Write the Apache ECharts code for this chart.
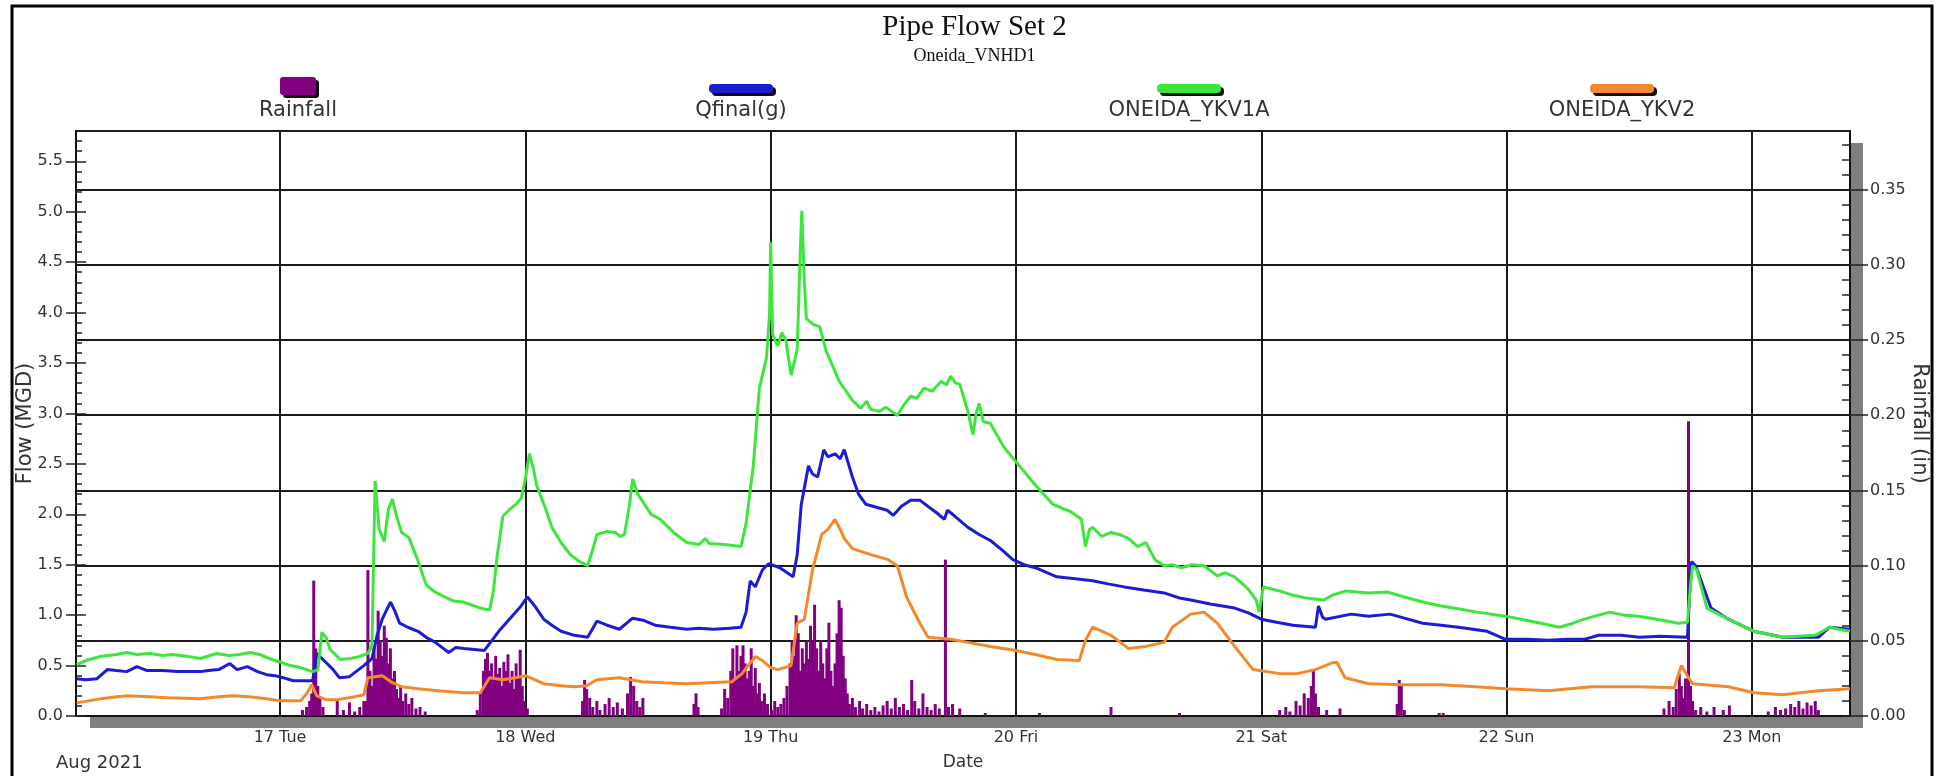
<!DOCTYPE html>
<html><head><meta charset="utf-8">
<script src="https://cdn.jsdelivr.net/npm/echarts@6/dist/echarts.min.js"></script>
<style>html,body{margin:0;padding:0;background:#fff}#c{width:1949px;height:776px}</style>
</head><body><div id="c"></div><script>
// ---- data (x = hours since Aug 16 2021 00:00) ----
const seriesNames = ['Rainfall', 'Qfinal(g)', 'ONEIDA_YKV1A', 'ONEIDA_YKV2'];
const dayHours = [24, 48, 72, 96, 120, 144, 168];
const dayLabels = ['17 Tue', '18 Wed', '19 Thu', '20 Fri', '21 Sat', '22 Sun', '23 Mon'];

const rainfall = [
 [26.2,0.004],[26.6,0.006],[26.9,0.01],[27.1,0.015],[27.3,0.09],[27.5,0.045],[27.7,0.02],[27.9,0.012],[28.2,0.006],
 [29.6,0.011],[30.2,0.004],[30.8,0.009],[31.3,0.003],[31.8,0.006],[32.2,0.01],
 [32.4,0.01],[32.6,0.097],[32.8,0.03],[33.0,0.02],[33.2,0.045],[33.4,0.038],[33.6,0.07],[33.8,0.05],[34.0,0.04],[34.2,0.06],
 [34.4,0.052],[34.6,0.035],[34.8,0.045],[35.0,0.025],[35.2,0.03],[35.4,0.018],[35.6,0.012],[35.8,0.02],[36.0,0.01],
 [36.3,0.015],[36.6,0.008],[36.9,0.012],[37.3,0.005],[37.7,0.006],[38.2,0.003],
 [43.3,0.004],[43.6,0.015],[43.9,0.03],[44.1,0.038],[44.3,0.042],[44.5,0.03],[44.7,0.035],[44.9,0.025],[45.1,0.04],
 [45.3,0.028],[45.5,0.032],[45.7,0.02],[45.9,0.036],[46.1,0.03],[46.3,0.041],[46.5,0.022],[46.7,0.03],[46.9,0.018],
 [47.1,0.035],[47.3,0.025],[47.5,0.044],[47.7,0.02],[47.9,0.01],[48.2,0.005],
 [53.6,0.01],[53.8,0.024],[54.0,0.018],[54.3,0.012],[54.6,0.006],[55.0,0.01],[55.3,0.004],[55.8,0.008],[56.2,0.012],
 [56.6,0.006],[57.0,0.009],[57.5,0.005],[58.0,0.015],[58.3,0.026],[58.6,0.02],[58.9,0.01],[59.2,0.006],[59.5,0.012],
 [64.5,0.008],[64.7,0.015],[64.9,0.006],[67.2,0.005],[67.5,0.018],[67.8,0.012],[68.1,0.03],[68.3,0.045],[68.5,0.025],
 [68.7,0.047],[68.9,0.03],[69.1,0.04],[69.3,0.047],[69.5,0.035],[69.7,0.025],[69.9,0.03],[70.1,0.045],[70.3,0.02],
 [70.5,0.032],[70.7,0.015],[70.9,0.022],[71.1,0.01],[71.4,0.015],[71.7,0.008],
 [72.1,0.004],[72.4,0.01],[72.7,0.006],[73.0,0.008],[73.3,0.012],[73.6,0.02],[73.9,0.035],[74.1,0.05],[74.3,0.04],
 [74.5,0.067],[74.7,0.055],[74.9,0.03],[75.1,0.045],[75.3,0.035],[75.5,0.05],[75.7,0.038],[75.9,0.06],[76.1,0.05],
 [76.3,0.074],[76.5,0.045],[76.7,0.03],[76.9,0.05],[77.1,0.035],[77.3,0.025],[77.5,0.045],[77.7,0.062],[77.9,0.03],
 [78.1,0.02],[78.3,0.035],[78.5,0.055],[78.7,0.077],[78.9,0.072],[79.1,0.04],[79.3,0.025],[79.5,0.015],[79.7,0.008],
 [80.0,0.012],[80.3,0.006],[80.7,0.01],[81.0,0.005],[81.4,0.008],[81.8,0.004],[82.2,0.006],[82.6,0.003],[83.0,0.007],
 [83.4,0.01],[83.8,0.005],[84.2,0.012],[84.6,0.006],[85.0,0.008],[85.4,0.004],[85.8,0.024],[86.1,0.01],[86.5,0.005],
 [86.9,0.015],[87.3,0.006],[87.7,0.004],[88.1,0.008],[88.5,0.005],[89.1,0.104],[89.4,0.006],[89.8,0.008],
 [90.5,0.005],[93.0,0.002],[98.3,0.002],[105.3,0.006],[112.0,0.002],
 [121.8,0.004],[122.4,0.006],[122.8,0.003],[123.4,0.01],[123.8,0.007],[124.2,0.015],[124.6,0.012],[124.9,0.02],
 [125.1,0.031],[125.3,0.015],[125.6,0.006],[126.4,0.004],[127.7,0.005],
 [133.3,0.008],[133.5,0.024],[133.7,0.02],[134.0,0.004],[137.4,0.002],[137.8,0.002],
 [159.4,0.005],[159.9,0.01],[160.3,0.006],[160.6,0.018],[160.9,0.028],[161.1,0.02],[161.3,0.012],[161.5,0.025],
 [161.8,0.196],[162.0,0.02],[162.2,0.01],[162.5,0.004],[163.0,0.006],[163.6,0.003],[164.3,0.006],[165.2,0.004],[165.8,0.007],
 [169.6,0.003],[170.3,0.006],[170.8,0.004],[171.3,0.005],[171.8,0.008],[172.2,0.006],[172.6,0.01],[173.0,0.005],
 [173.4,0.009],[173.8,0.007],[174.2,0.01],[174.5,0.004]
];

const qfinal = [
 [4.1,0.37],[5,0.36],[6.1,0.37],[7.1,0.46],[8,0.45],[9,0.44],[10,0.49],[11,0.45],[12.5,0.45],[14,0.44],[15.5,0.44],
 [16.2,0.44],[17,0.45],[18,0.46],[19.1,0.52],[19.8,0.46],[20.8,0.49],[21.8,0.44],[22.7,0.41],[23.5,0.40],[24.3,0.38],
 [25.3,0.35],[26.5,0.35],[27.2,0.35],[27.6,0.62],[28.2,0.56],[29.2,0.46],[29.8,0.38],[30.8,0.39],[32.2,0.50],[33,0.57],
 [33.5,0.80],[34,0.96],[34.8,1.13],[35.2,1.05],[35.7,0.92],[36.5,0.88],[37.5,0.84],[38.3,0.78],[39.2,0.73],[40.5,0.63],
 [41.2,0.68],[42,0.67],[43,0.66],[44,0.65],[45.4,0.84],[46.7,0.99],[47.5,1.08],[48.2,1.18],[49,1.08],[49.8,0.96],
 [50.6,0.90],[51.5,0.84],[52.8,0.80],[54.1,0.78],[55,0.94],[56,0.90],[57.2,0.86],[58.5,0.97],[59.5,0.95],[60.7,0.90],
 [62.2,0.88],[63.8,0.86],[65,0.87],[66.4,0.86],[68,0.87],[69.1,0.88],[69.6,1.03],[70,1.34],[70.5,1.28],[71.2,1.45],
 [71.8,1.51],[72.9,1.47],[74.2,1.38],[74.6,1.60],[75,2.10],[75.7,2.48],[76.1,2.40],[76.6,2.37],[77.2,2.64],[77.6,2.57],
 [78.3,2.60],[78.8,2.55],[79.2,2.64],[80,2.37],[80.6,2.20],[81.3,2.10],[82,2.08],[82.7,2.06],[83.4,2.04],[84,1.99],
 [84.8,2.08],[85.7,2.14],[86.6,2.14],[87.5,2.07],[88.3,2.01],[89,1.95],[89.3,2.04],[89.8,2.0],[91.3,1.87],[92.4,1.80],
 [93.5,1.74],[94.6,1.65],[95.7,1.55],[96.8,1.50],[97.9,1.47],[100,1.38],[101.8,1.36],[103.5,1.34],[105,1.31],
 [106.6,1.28],[108.5,1.25],[110.5,1.22],[112,1.17],[113.1,1.15],[115,1.11],[117.4,1.07],[118.8,1.02],[120,0.96],
 [121.5,0.93],[123.1,0.90],[125.3,0.88],[125.6,1.09],[126,0.98],[126.3,0.96],[128.8,1.01],[130.5,0.99],[132.6,1.01],
 [134,0.97],[135.8,0.92],[137.6,0.90],[139.3,0.88],[142.1,0.84],[143.9,0.76],[146,0.76],[148.1,0.75],[150,0.76],
 [151.6,0.76],[153,0.80],[155.2,0.80],[157,0.78],[159,0.79],[161.7,0.78],[161.9,1.20],[162.1,1.53],[162.5,1.49],
 [164,1.07],[165.7,0.96],[168.2,0.84],[171,0.78],[174.5,0.78],[175.6,0.88],[177.6,0.86]
];

const ykv1a = [
 [4.1,0.51],[5,0.55],[6.4,0.59],[8,0.61],[9,0.63],[10,0.61],[11.3,0.62],[12.5,0.60],[13.5,0.61],[15,0.59],[16.2,0.57],
 [17.8,0.62],[19,0.60],[20,0.61],[21.1,0.63],[22,0.61],[22.7,0.58],[23.5,0.55],[24.2,0.53],[25,0.50],[26,0.48],
 [27.2,0.44],[27.7,0.46],[28.1,0.83],[28.5,0.78],[28.9,0.66],[29.9,0.56],[30.9,0.57],[31.8,0.59],[32.6,0.62],[33,0.70],
 [33.3,2.33],[33.7,1.85],[34.2,1.73],[34.6,2.05],[35,2.15],[35.4,1.98],[35.9,1.82],[36.6,1.77],[37.5,1.54],[38.3,1.30],
 [39,1.24],[40.1,1.18],[41,1.14],[41.9,1.13],[42.8,1.10],[43.6,1.07],[44.5,1.05],[44.9,1.25],[45.2,1.55],[45.8,1.98],
 [46.5,2.05],[47.1,2.10],[47.6,2.16],[48.0,2.35],[48.4,2.60],[48.8,2.45],[49.1,2.29],[50,2.05],[50.6,1.87],[51.5,1.72],
 [52.4,1.60],[53.3,1.53],[54.1,1.49],[54.6,1.65],[55,1.80],[56,1.83],[56.8,1.82],[57.3,1.78],[57.7,1.80],[58.2,2.10],
 [58.5,2.35],[59,2.20],[59.4,2.14],[60.3,2.00],[61.2,1.95],[62.5,1.82],[63.8,1.72],[65,1.70],[65.6,1.76],[66,1.71],
 [67.5,1.70],[69.1,1.68],[69.6,1.91],[70.3,2.48],[70.9,3.25],[71.6,3.55],[71.9,4.0],[72,4.70],[72.2,3.78],[72.7,3.67],
 [73.1,3.80],[73.5,3.72],[74,3.38],[74.6,3.63],[74.9,4.6],[75.05,5.01],[75.3,4.3],[75.5,3.94],[76.2,3.88],[76.8,3.86],
 [77.4,3.63],[78.7,3.32],[80,3.13],[80.8,3.05],[81.4,3.12],[81.8,3.04],[82.6,3.02],[83.3,3.06],[84.4,2.98],[85,3.08],
 [85.7,3.17],[86.3,3.15],[87,3.25],[87.8,3.22],[88.7,3.32],[89.2,3.28],[89.6,3.37],[90.1,3.30],[90.5,3.29],[91.3,3.02],
 [91.8,2.79],[92.1,3.0],[92.4,3.10],[92.8,2.92],[93.5,2.90],[94.8,2.67],[96,2.52],[97,2.40],[97.9,2.29],[99.6,2.10],
 [100.5,2.06],[101.3,2.03],[102.4,1.95],[102.8,1.68],[103.2,1.85],[103.5,1.87],[104.4,1.78],[105.3,1.82],[106.1,1.80],
 [107,1.76],[107.9,1.68],[108.7,1.72],[109.6,1.55],[110.5,1.49],[111.3,1.50],[112.2,1.47],[113.2,1.50],[114.4,1.49],
 [115.7,1.39],[116.5,1.42],[117.4,1.38],[118.7,1.26],[119.5,1.15],[119.8,1.03],[120.2,1.28],[121.8,1.24],[123,1.20],
 [124.4,1.17],[126.1,1.15],[127,1.20],[128.3,1.24],[130.5,1.22],[132.3,1.23],[134,1.18],[135.8,1.13],[137.6,1.09],
 [139.4,1.06],[141.1,1.03],[143.9,0.99],[146.4,0.94],[149.2,0.88],[150.5,0.92],[151.6,0.96],[153,1.00],[154.1,1.03],
 [155.5,1.00],[156.9,0.99],[158.7,0.96],[160.8,0.92],[161.7,0.93],[162.0,1.30],[162.2,1.49],[162.6,1.45],[163.6,1.07],
 [165.7,0.96],[168.2,0.84],[171,0.78],[172.5,0.79],[174.2,0.80],[175.6,0.88],[176.5,0.86],[177.6,0.84]
];

const ykv2 = [
 [4.1,0.13],[6.4,0.17],[9,0.20],[11.3,0.19],[13,0.18],[16.2,0.17],[18,0.19],[19.5,0.20],[21,0.19],[22.7,0.17],[24,0.15],
 [26,0.15],[26.6,0.22],[27.1,0.31],[27.6,0.20],[28.6,0.16],[29.5,0.16],[31.3,0.19],[32.2,0.21],[32.6,0.38],[34,0.40],
 [35,0.33],[35.9,0.29],[37.5,0.27],[39.5,0.25],[41.9,0.23],[43.6,0.23],[44.5,0.38],[45.8,0.36],[47,0.38],[48,0.40],
 [49.8,0.32],[51.5,0.30],[52.8,0.29],[54,0.30],[55,0.36],[57.2,0.38],[59.4,0.34],[61.5,0.33],[63.8,0.32],[66,0.33],
 [68.2,0.34],[69.2,0.42],[70.5,0.59],[71.2,0.55],[72,0.48],[72.7,0.46],[74,0.50],[74.6,0.92],[75.3,0.96],[76.1,1.45],
 [77,1.80],[77.6,1.85],[78.3,1.95],[78.8,1.85],[79.2,1.76],[80,1.66],[81.8,1.60],[83.5,1.55],[84.4,1.49],[85.3,1.18],
 [86.6,0.92],[87.4,0.78],[89.6,0.76],[91.3,0.73],[93.5,0.69],[96,0.65],[97.9,0.61],[100,0.56],[102.2,0.55],[102.8,0.75],
 [103.5,0.88],[105.3,0.80],[107,0.67],[108.7,0.69],[110.5,0.73],[111.3,0.88],[113.1,1.01],[114.4,1.03],[115.7,0.92],
 [117.4,0.69],[119.2,0.46],[121.8,0.42],[123.5,0.42],[125.3,0.46],[127,0.53],[127.4,0.53],[128.2,0.38],[130.5,0.32],
 [134,0.31],[137.6,0.31],[141,0.29],[143.9,0.27],[148.1,0.25],[152.3,0.29],[156.9,0.29],[160.4,0.28],[161.1,0.50],
 [161.8,0.38],[162.2,0.32],[165.7,0.29],[168.2,0.23],[171,0.21],[174.5,0.25],[177.6,0.27]
];

const colors = ['#800080', '#1c1cd2', '#3de63d', '#f2892c'];
// ---- chart ----
const FONT = 'DejaVu Sans';
const chart = echarts.init(document.getElementById('c'), null, {renderer: 'canvas'});
const lbl = {fontFamily: FONT, fontSize: 16, color: '#333'};
const legendX = [298, 741, 1189, 1622];
const legendGraphics = [];
seriesNames.forEach((n, i) => {
  const cx = legendX[i];
  if (i === 0) {
    legendGraphics.push({type: 'rect', shape: {x: cx - 18 + 3, y: 80, width: 36, height: 18, r: 3}, style: {fill: '#111'}});
    legendGraphics.push({type: 'rect', shape: {x: cx - 18, y: 77, width: 36, height: 18, r: 3}, style: {fill: colors[i]}});
  } else {
    legendGraphics.push({type: 'rect', shape: {x: cx - 32 + 3, y: 87, width: 64, height: 9, r: 4}, style: {fill: '#111'}});
    legendGraphics.push({type: 'rect', shape: {x: cx - 32, y: 84, width: 64, height: 9, r: 4}, style: {fill: colors[i]}});
  }
  legendGraphics.push({type: 'text', x: cx, y: 111, style: {text: n, fontFamily: FONT, fontSize: 21, fill: '#333', align: 'center', verticalAlign: 'middle'}});
});

const option = {
  backgroundColor: '#fff',
  animation: false,
  title: {
    text: 'Pipe Flow Set 2', subtext: 'Oneida_VNHD1', left: 'center', top: 8, itemGap: 5,
    textStyle: {fontFamily: 'Liberation Serif', fontSize: 29, fontWeight: 'normal', color: '#111'},
    subtextStyle: {fontFamily: 'Liberation Serif', fontSize: 18, color: '#111'}
  },
  grid: {left: 76, right: 99, top: 131, bottom: 60, show: true, borderColor: '#333', borderWidth: 1.5, backgroundColor: '#fff'},
  xAxis: {
    type: 'value', min: 4.04, max: 177.6,
    name: 'Date', nameLocation: 'middle', nameGap: 38, nameMoveOverlap: false,
    nameTextStyle: {fontFamily: FONT, fontSize: 17, color: '#333'},
    axisLine: {show: true, onZero: false, lineStyle: {color: '#111', width: 2}},
    axisTick: {show: false, customValues: dayHours},
    axisLabel: {customValues: dayHours, formatter: v => dayLabels[dayHours.indexOf(Math.round(v))] || '', margin: 14, ...lbl},
    splitLine: {show: true, lineStyle: {color: '#1a1a1a', width: 2}}
  },
  yAxis: [
    {
      type: 'value', position: 'left', min: 0, max: 5.8, interval: 0.5,
      name: 'Flow (MGD)', nameLocation: 'middle', nameGap: 40, nameRotate: 90, nameMoveOverlap: false,
      nameTextStyle: {fontFamily: FONT, fontSize: 21, color: '#333'},
      axisLine: {show: true, lineStyle: {color: '#111', width: 2}},
      axisTick: {show: true, inside: false, length: 10, lineStyle: {color: '#222', width: 1.5}},
      axisLabel: {formatter: v => v.toFixed(1), showMaxLabel: false, margin: 13, ...lbl},
      splitLine: {show: false}
    },
    {
      type: 'value', position: 'left', min: 0, max: 5.8, interval: 0.5,
      axisLine: {show: false},
      axisTick: {show: true, inside: true, length: 10, lineStyle: {color: '#222', width: 1.5}},
      minorTick: {show: true, splitNumber: 5, length: 6, lineStyle: {color: '#222', width: 1.5}},
      axisLabel: {show: false}, splitLine: {show: false}
    },
    {
      type: 'value', position: 'right', min: 0, max: 0.389, interval: 0.05,
      name: 'Rainfall (in)', nameLocation: 'middle', nameGap: 59, nameRotate: -90, nameMoveOverlap: false,
      nameTextStyle: {fontFamily: FONT, fontSize: 21, color: '#333'},
      axisLine: {show: true, lineStyle: {color: '#111', width: 2}},
      axisTick: {show: true, inside: false, length: 18, lineStyle: {color: '#222', width: 1.5}},
      axisLabel: {formatter: v => v.toFixed(2), showMaxLabel: false, margin: 20, ...lbl},
      splitLine: {show: true, lineStyle: {color: '#1a1a1a', width: 2}}
    },
    {
      type: 'value', position: 'right', min: 0, max: 0.389, interval: 0.05,
      axisLine: {show: false},
      axisTick: {show: true, inside: true, length: 8, lineStyle: {color: '#222', width: 1.5}},
      minorTick: {show: true, splitNumber: 5, length: 8, lineStyle: {color: '#222', width: 1.5}},
      axisLabel: {show: false}, splitLine: {show: false}
    }
  ],
  series: [
    {name: seriesNames[0], type: 'bar', xAxisIndex: 0, yAxisIndex: 2, data: rainfall, barWidth: 3,
     itemStyle: {color: colors[0]}, z: 2},
    {name: seriesNames[1], type: 'line', yAxisIndex: 0, data: qfinal, showSymbol: false, symbol: 'none',
     lineStyle: {color: colors[1], width: 3}, z: 3},
    {name: seriesNames[2], type: 'line', yAxisIndex: 0, data: ykv1a, showSymbol: false, symbol: 'none',
     lineStyle: {color: colors[2], width: 3}, z: 4},
    {name: seriesNames[3], type: 'line', yAxisIndex: 0, data: ykv2, showSymbol: false, symbol: 'none',
     lineStyle: {color: colors[3], width: 3}, z: 5}
  ],
  graphic: [
    {type: 'rect', z: -10, silent: true, shape: {x: 90, y: 717, width: 1773, height: 11}, style: {fill: '#7f7f7f'}},
    {type: 'rect', z: -10, silent: true, shape: {x: 1851, y: 143, width: 12, height: 585}, style: {fill: '#7f7f7f'}},
    {type: 'text', x: 56, y: 763, style: {text: 'Aug 2021', fontFamily: FONT, fontSize: 18, fill: '#333', verticalAlign: 'middle'}},
    {type: 'rect', z: 100, silent: true, shape: {x: 12, y: 6, width: 1920, height: 800}, style: {fill: 'none', stroke: '#000', lineWidth: 3}},
    ...legendGraphics
  ]
};
chart.setOption(option);
</script></body></html>
